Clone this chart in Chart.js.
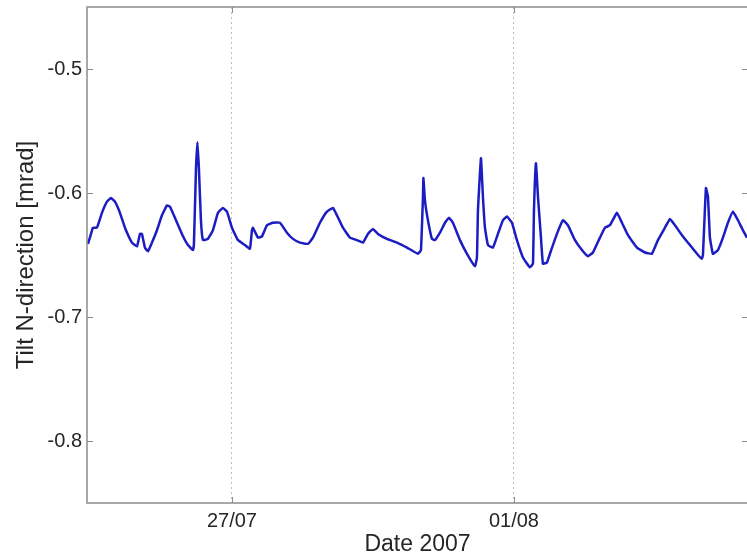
<!DOCTYPE html>
<html>
<head>
<meta charset="utf-8">
<title>Tilt N-direction</title>
<script src="https://cdn.jsdelivr.net/npm/chart.js@4.4.1/dist/chart.umd.min.js"></script>
<style>
    html, body { margin: 0; padding: 0; background: #fff; overflow: hidden; }
    #wrap { width: 750px; height: 560px; }
</style>
</head>
<body>
<div id="wrap"><canvas id="tiltChart" width="750" height="560"></canvas></div>
<script>
// time in days counted from 1 July 2007 (27 = 27/07, 32 = 01/08)
var days = [
    24.447, 24.482, 24.535, 24.606, 24.695, 24.784, 24.855, 24.926, 25.014, 25.103,
    25.227, 25.316, 25.369, 25.404, 25.457, 25.511, 25.582, 25.670, 25.759, 25.848,
    25.901, 25.989, 26.113, 26.220, 26.309, 26.326, 26.362, 26.388, 26.415, 26.450,
    26.486, 26.574, 26.663, 26.752, 26.840, 26.911, 27.000, 27.106, 27.230, 27.319,
    27.355, 27.372, 27.461, 27.532, 27.621, 27.727, 27.851, 27.975, 28.082, 28.206,
    28.348, 28.436, 28.560, 28.684, 28.791, 28.862, 28.968, 29.092, 29.216, 29.323,
    29.411, 29.500, 29.589, 29.748, 29.926, 30.103, 30.298, 30.351, 30.387, 30.395,
    30.422, 30.475, 30.546, 30.599, 30.688, 30.777, 30.848, 30.918, 31.043, 31.167,
    31.309, 31.344, 31.362, 31.415, 31.450, 31.486, 31.539, 31.628, 31.716, 31.805,
    31.876, 31.965, 32.053, 32.160, 32.284, 32.337, 32.355, 32.390, 32.426, 32.479,
    32.514, 32.585, 32.638, 32.762, 32.869, 32.957, 33.082, 33.206, 33.312, 33.401,
    33.525, 33.613, 33.702, 33.826, 33.915, 34.021, 34.181, 34.323, 34.447, 34.553,
    34.677, 34.766, 34.855, 34.979, 35.121, 35.245, 35.333, 35.351, 35.404, 35.440,
    35.475, 35.528, 35.617, 35.706, 35.794, 35.883, 35.972, 36.060, 36.131
];
var tilt = [
    -0.641, -0.636, -0.628, -0.628, -0.616, -0.607, -0.604, -0.607, -0.616, -0.628,
    -0.640, -0.643, -0.633, -0.633, -0.644, -0.647, -0.640, -0.630, -0.618, -0.610,
    -0.611, -0.620, -0.633, -0.642, -0.646, -0.641, -0.581, -0.559, -0.581, -0.622,
    -0.638, -0.637, -0.630, -0.616, -0.612, -0.615, -0.628, -0.638, -0.642, -0.645,
    -0.630, -0.628, -0.636, -0.635, -0.626, -0.624, -0.624, -0.632, -0.637, -0.640,
    -0.641, -0.636, -0.624, -0.615, -0.612, -0.618, -0.628, -0.636, -0.638, -0.640,
    -0.633, -0.629, -0.633, -0.637, -0.640, -0.644, -0.649, -0.646, -0.603, -0.588,
    -0.606, -0.622, -0.637, -0.638, -0.632, -0.624, -0.620, -0.624, -0.638, -0.649,
    -0.659, -0.652, -0.614, -0.572, -0.603, -0.628, -0.642, -0.644, -0.633, -0.622,
    -0.619, -0.624, -0.638, -0.652, -0.660, -0.657, -0.614, -0.576, -0.603, -0.636,
    -0.657, -0.656, -0.649, -0.633, -0.622, -0.626, -0.638, -0.646, -0.651, -0.648,
    -0.636, -0.628, -0.626, -0.616, -0.624, -0.634, -0.644, -0.648, -0.649, -0.638,
    -0.628, -0.621, -0.626, -0.634, -0.642, -0.649, -0.653, -0.650, -0.596, -0.603,
    -0.636, -0.649, -0.646, -0.636, -0.624, -0.615, -0.622, -0.630, -0.636
];
var dateTicks = [27, 32];
var dateLabels = ["27/07", "01/08"];
var tiltTicks = [-0.8, -0.7, -0.6, -0.5];

var axisGray = "#8c8c8c";
var textColor = "#262626";

Chart.defaults.font.family = "'Liberation Sans', Arial, sans-serif";
Chart.defaults.color = textColor;

// matlab-like box with inward tick marks
var boxPlugin = {
    id: 'boxPlugin',
    afterDatasetsDraw: function(chart) {
        var a = chart.chartArea;
        var ctx = chart.ctx;
        var xs = chart.scales.x, ys = chart.scales.y;
        ctx.save();
        ctx.strokeStyle = axisGray;
        ctx.lineWidth = 1;
        ctx.beginPath();
        ys.ticks.forEach(function(t) {
            var py = Math.round(ys.getPixelForValue(t.value)) + 0.5;
            ctx.moveTo(a.left, py); ctx.lineTo(a.left + 6, py);
            ctx.moveTo(a.right, py); ctx.lineTo(a.right - 6, py);
        });
        xs.ticks.forEach(function(t) {
            var px = Math.round(xs.getPixelForValue(t.value)) + 0.5;
            ctx.moveTo(px, a.bottom); ctx.lineTo(px, a.bottom - 6);
            ctx.moveTo(px, a.top); ctx.lineTo(px, a.top + 6);
        });
        ctx.stroke();
        ctx.lineWidth = 1.5;
        ctx.strokeRect(a.left, a.top, a.right - a.left, a.bottom - a.top);
        ctx.restore();
    }
};

var points = days.map(function(d, i) { return {x: d, y: tilt[i]}; });

var ctx = document.getElementById("tiltChart").getContext("2d");
new Chart(ctx, {
    type: 'line',
    data: {
        datasets: [{
            label: "Tilt N",
            data: points,
            borderColor: "rgba(28,28,195,1)",
            borderWidth: 2.5,
            pointRadius: 0,
            fill: false,
            tension: 0.1
        }]
    },
    options: {
        responsive: false,
        devicePixelRatio: 1,
        animation: false,
        layout: { padding: { top: 7, right: 2, left: 0, bottom: 0 } },
        plugins: { legend: { display: false }, tooltip: { enabled: false } },
        scales: {
            x: {
                type: 'linear',
                min: 24.43,
                max: 36.15,
                afterBuildTicks: function(scale) {
                    scale.ticks = dateTicks.map(function(v) { return {value: v}; });
                },
                afterFit: function(scale) {
                    scale.height = 57;
                    scale.paddingLeft = 0;
                    scale.paddingRight = 0;
                },
                ticks: {
                    padding: 6,
                    font: { size: 20 },
                    color: textColor,
                    maxRotation: 0,
                    callback: function(v) { return dateLabels[dateTicks.indexOf(v)]; }
                },
                grid: { display: true, drawTicks: false, color: "#bdbdbd", lineWidth: 1 },
                border: { display: false, dash: [2, 3] },
                title: {
                    display: true,
                    text: "Date 2007",
                    font: { size: 23 },
                    color: textColor,
                    padding: { top: 2, bottom: 2 }
                }
            },
            y: {
                min: -0.85,
                max: -0.45,
                afterBuildTicks: function(scale) {
                    scale.ticks = tiltTicks.map(function(v) { return {value: v}; });
                },
                afterFit: function(scale) {
                    scale.width = 87;
                    scale.paddingTop = 0;
                    scale.paddingBottom = 0;
                },
                ticks: {
                    padding: 5,
                    font: { size: 20 },
                    color: textColor,
                    callback: function(v) { return v.toFixed(1); }
                },
                grid: { display: false, drawTicks: false },
                border: { display: false },
                title: {
                    display: true,
                    text: "Tilt N-direction [mrad]",
                    font: { size: 24 },
                    color: textColor,
                    padding: { top: 12, bottom: 12 }
                }
            }
        }
    },
    plugins: [boxPlugin]
});
</script>
</body>
</html>
